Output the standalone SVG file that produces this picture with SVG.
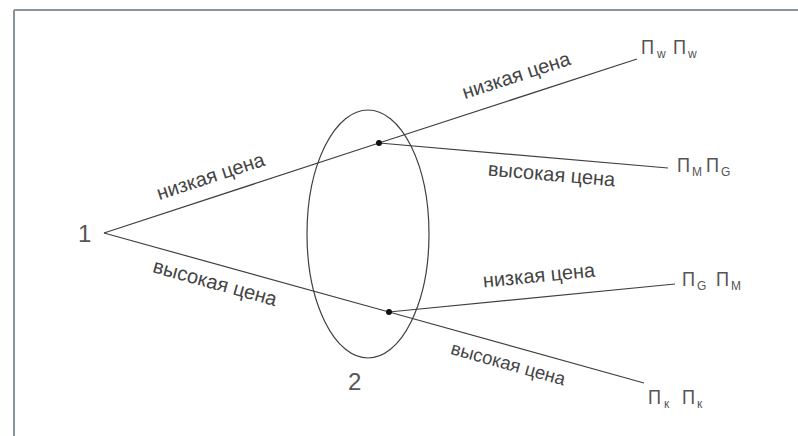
<svg xmlns="http://www.w3.org/2000/svg" width="798" height="436" viewBox="0 0 798 436">
<style>
.frame{stroke:#8a949c;stroke-width:2;fill:none}
.edge{stroke:#404040;stroke-width:1.2;fill:none}
.lbl{font-family:"Liberation Sans",Arial,sans-serif;font-size:20px;fill:#444;text-anchor:middle}
.num{font-family:"Liberation Sans",Arial,sans-serif;font-size:24px;fill:#555}
.pay{font-family:"Liberation Sans",Arial,sans-serif;font-size:21px;fill:#555}
.sub{font-family:"Liberation Sans",Arial,sans-serif;font-size:12px;fill:#555}
.dot{fill:#111}
</style>
<rect width="798" height="436" fill="#fff"/>
<g id="frame">
<line class="frame" x1="14" y1="10" x2="798" y2="10"/>
<line class="frame" x1="14" y1="10" x2="14" y2="436"/>
</g>
<g id="connectors">
<line class="edge" x1="104" y1="233" x2="379" y2="143"/>
<line class="edge" x1="104" y1="233" x2="389" y2="312"/>
<line class="edge" x1="379" y1="143" x2="637" y2="59"/>
<line class="edge" x1="379" y1="143" x2="668" y2="168"/>
<line class="edge" x1="389" y1="312" x2="675" y2="284"/>
<line class="edge" x1="389" y1="312" x2="644" y2="383"/>
<text class="lbl" transform="translate(217,196) rotate(-18.1)" x="0" y="-14">низкая цена</text>
<text class="lbl" transform="translate(220,265) rotate(15.5)" x="0" y="25">высокая цена</text>
<text class="lbl" transform="translate(523,96) rotate(-18)" x="0" y="-15">низкая цена</text>
<text class="lbl" transform="translate(553,158) rotate(4.9)" x="0" y="23">высокая цена</text>
<text class="lbl" transform="translate(541,297) rotate(-5.6)" x="0" y="-15">низкая цена</text>
<text class="lbl" style="font-size:18.5px" transform="translate(513,346.5) rotate(15.6)" x="0" y="24">высокая цена</text>
</g>
<g id="node1">
<text class="num" x="78" y="242">1</text>
</g>
<g id="node2">
<ellipse cx="368" cy="234" rx="61" ry="124" class="edge"/>
<circle class="dot" cx="379" cy="143" r="3"/>
<circle class="dot" cx="389" cy="312" r="3"/>
<text class="num" x="348" y="390">2</text>
</g>
<g id="payoff-ww">
<text class="pay" x="641" y="54" textLength="13" lengthAdjust="spacingAndGlyphs">П</text><text class="sub" x="657" y="58">w</text>
<text class="pay" x="673" y="54" textLength="13" lengthAdjust="spacingAndGlyphs">П</text><text class="sub" x="688" y="58">w</text>
</g>
<g id="payoff-mg">
<text class="pay" x="677" y="172" textLength="13" lengthAdjust="spacingAndGlyphs">П</text><text class="sub" x="692" y="176">М</text>
<text class="pay" x="706" y="172" textLength="13" lengthAdjust="spacingAndGlyphs">П</text><text class="sub" x="721" y="176">G</text>
</g>
<g id="payoff-gm">
<text class="pay" x="682" y="286" textLength="13" lengthAdjust="spacingAndGlyphs">П</text><text class="sub" x="697" y="290">G</text>
<text class="pay" x="716" y="286" textLength="13" lengthAdjust="spacingAndGlyphs">П</text><text class="sub" x="731" y="290">М</text>
</g>
<g id="payoff-kk">
<text class="pay" x="648" y="404" textLength="13" lengthAdjust="spacingAndGlyphs">П</text><text class="sub" x="664" y="408">к</text>
<text class="pay" x="682" y="404" textLength="13" lengthAdjust="spacingAndGlyphs">П</text><text class="sub" x="697" y="408">к</text>
</g>
</svg>
